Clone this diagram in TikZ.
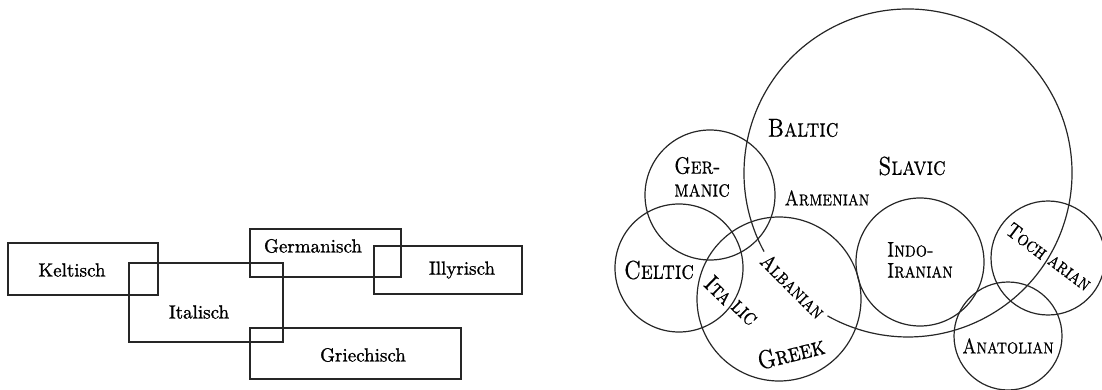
\documentclass[tikz,border=0pt]{standalone}
\usepackage{fontspec}
\newfontfamily\medfont{lmroman10-regular.otf}[FakeBold=1.1]
\newfontfamily\capfont{lmroman10-regular.otf}[FakeBold=0.6, SmallCapsFont=lmromancaps10-regular.otf, SmallCapsFeatures={FakeBold=0.6}]
\newcommand\tsc[1]{\scalebox{0.97}[1.18]{#1}}
\begin{document}
\begin{tikzpicture}[x=1pt,y=-1pt,
  boxline/.style={draw=black!85, line width=1.5pt},
  ring/.style={draw=black!85, line width=1.2pt},
  de/.style={inner sep=0pt, font=\fontsize{19}{22}\selectfont\medfont},
  big/.style={inner sep=0pt, font=\fontsize{22}{24}\selectfont\capfont\scshape},
  mid/.style={inner sep=0pt, font=\fontsize{20}{22}\selectfont\capfont\scshape},
  sml/.style={inner sep=0pt, font=\fontsize{18}{21}\selectfont\capfont\scshape, align=left}]
\useasboundingbox (0,0) rectangle (1102,390);
% ---- left panel
\draw[boxline] (8,243) rectangle (158,295);
\draw[boxline] (129,263) rectangle (283,342);
\draw[boxline] (250,229) rectangle (401,277);
\draw[boxline] (374,246) rectangle (522,294);
\draw[boxline] (250,328) rectangle (461,379);
\node[de] (kel) at (72,270) {Keltisch};
\node[de] (ita) at (199,312) {Italisch};
\node[de] (ger) at (313,246) {Germanisch};
\node[de] (ill) at (462,270) {Illyrisch};
\node[de] (gri) at (363,355) {Griechisch};
% ---- right panel
\draw[ring] (908,173) ++(151.4:164) arc[start angle=151.4, end angle=479.4, radius=164];
\draw[ring] (710,195) circle[radius=65];
\draw[ring] (679,268) circle[radius=64];
\draw[ring] (779,299) circle[radius=82];
\draw[ring] (920,262) circle[radius=64];
\draw[ring] (1048,258) circle[radius=57];
\draw[ring] (1008,336) circle[radius=54];
\node[big] (balt) at (803,128) {\tsc{Baltic}};
\node[big] (slav) at (912,166) {\tsc{Slavic}};
\node[mid, align=left] (germ) at (702,177) {\tsc{Ger-}\\[1pt]\tsc{manic}};
\node[sml] (arm) at (827,198) {\tsc{Armenian}};
\node[big] (celt) at (659,270) {\tsc{Celtic}};
\node[mid, rotate=-44] (ita1) at (719,290) {\tsc{Ita}};
\node[mid, rotate=-44] (ita2) at (744,313) {\tsc{lic}};
\node[sml, rotate=-45] (alb) at (793,286) {\tsc{Albanian}};
\node[big, rotate=14] (grk) at (791,353) {\tsc{Greek}};
\node[sml] (indo) at (920,260) {\tsc{Indo-}\\\tsc{Iranian}};
\node[sml, rotate=-37] (toc1) at (1027,241) {\tsc{Toch}};
\node[sml, rotate=-37] (toc2) at (1069,273) {\tsc{arian}};
\node[sml] (anat) at (1008,346) {\tsc{Anatolian}};
\end{tikzpicture}
\end{document}
